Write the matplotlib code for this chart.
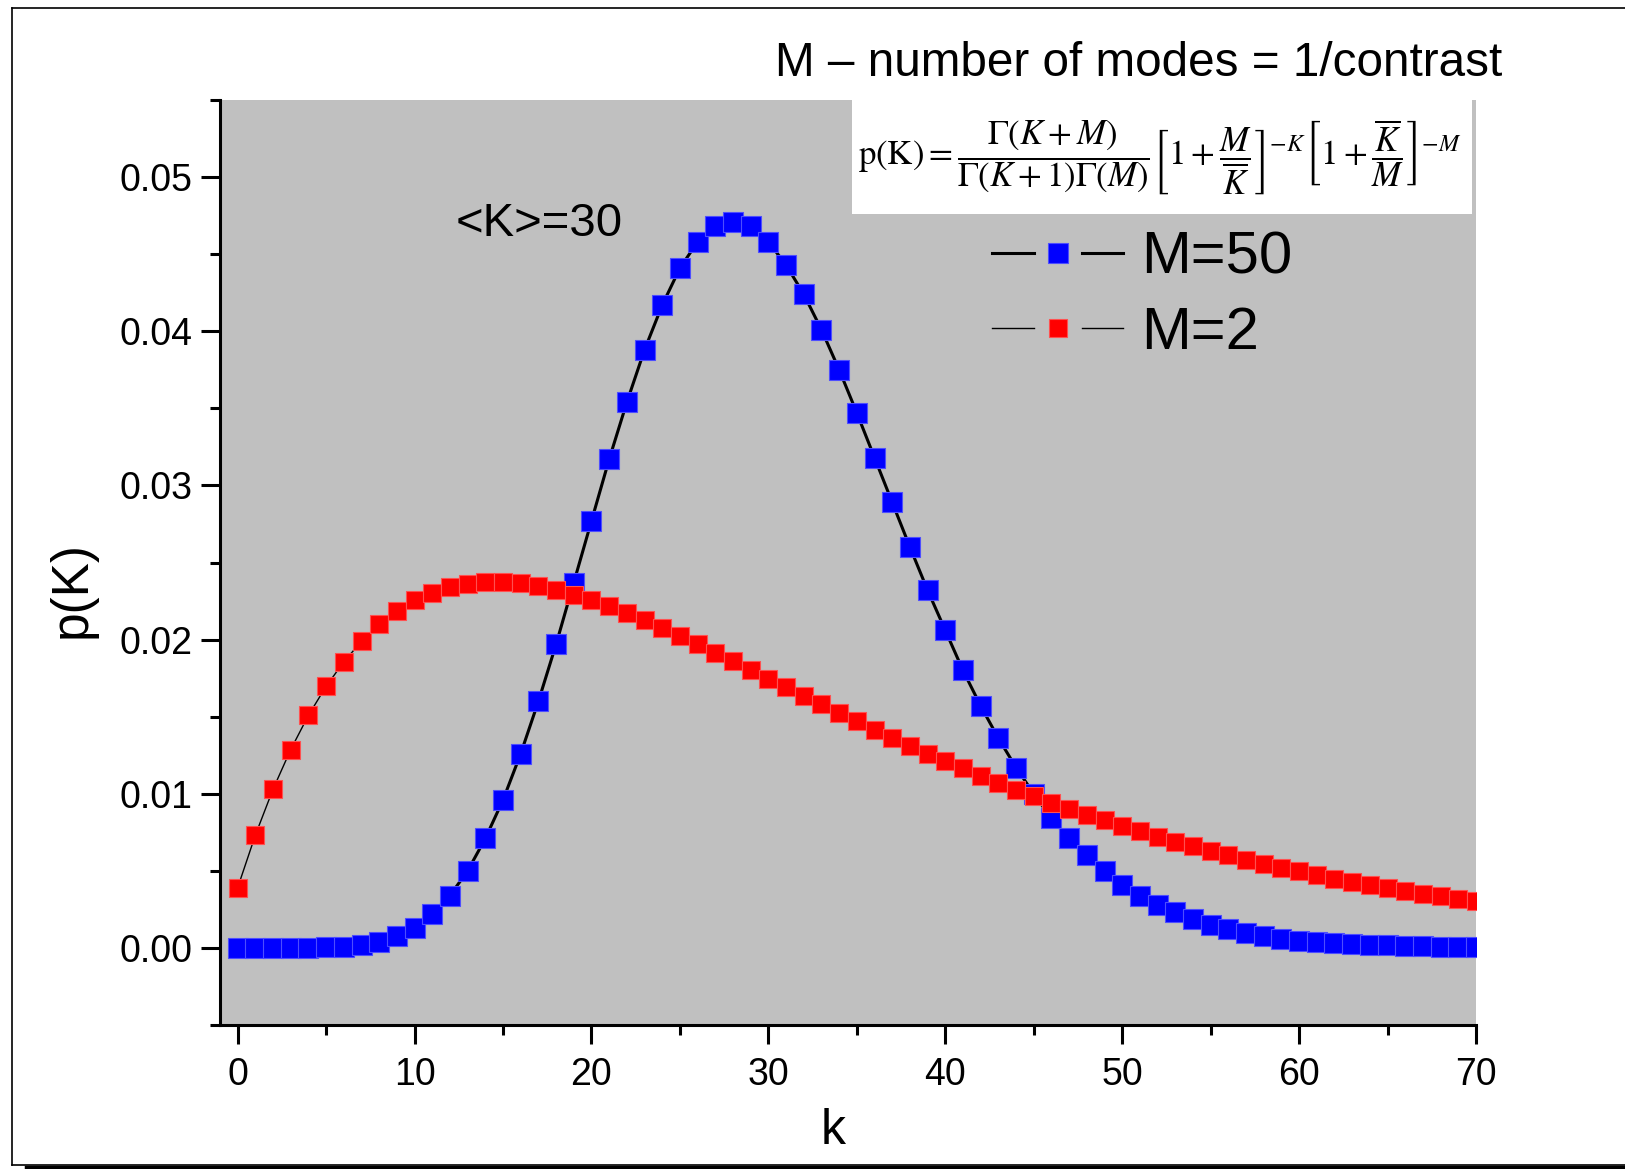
"""Negative binomial photocount distributions for two mode numbers."""

import matplotlib.pyplot as plt
from matplotlib.legend_handler import HandlerTuple
from matplotlib.lines import Line2D
from matplotlib.patches import Rectangle
from matplotlib.ticker import MultipleLocator

plt.rcParams["font.family"] = ["Liberation Sans", "DejaVu Sans"]
plt.rcParams["mathtext.fontset"] = "stix"

k_values = list(range(71))

p_m50 = [
    0.0, 0.0, 0.0, 0.0, 0.00001, 0.00003, 0.00007, 0.0002, 0.0004, 0.00078,
    0.0013, 0.0022, 0.0034, 0.0050, 0.0071, 0.0096, 0.0126, 0.0160, 0.0197, 0.0237,
    0.0277, 0.0317, 0.0354, 0.0388, 0.0417, 0.0441, 0.0458, 0.0468, 0.0471, 0.0468,
    0.0458, 0.0443, 0.0424, 0.0401, 0.0375, 0.0347, 0.0318, 0.0289, 0.0260, 0.0232,
    0.0206, 0.0180, 0.0157, 0.0136, 0.0117, 0.0100, 0.0084, 0.0071, 0.0060, 0.0050,
    0.0041, 0.0034, 0.0028, 0.0023, 0.0019, 0.0015, 0.0012, 0.00097, 0.00078, 0.0006,
    0.00048, 0.00037, 0.0003, 0.00024, 0.0002, 0.00016, 0.00013, 0.0001, 0.00008, 0.00006,
    0.00005,
]

p_m2 = [
    0.00391, 0.00732, 0.01030, 0.01287, 0.01509, 0.01697, 0.01856, 0.01989, 0.02098, 0.02185,
    0.02254, 0.02305, 0.02341, 0.02363, 0.02374, 0.02374, 0.02365, 0.02347, 0.02323, 0.02292,
    0.02256, 0.02216, 0.02172, 0.02125, 0.02075, 0.02023, 0.01970, 0.01915, 0.01859, 0.01803,
    0.01747, 0.01691, 0.01634, 0.01579, 0.01524, 0.01469, 0.01416, 0.01363, 0.01311, 0.01261,
    0.01212, 0.01164, 0.01117, 0.01071, 0.01027, 0.00985, 0.00943, 0.00903, 0.00864, 0.00827,
    0.00790, 0.00756, 0.00722, 0.00690, 0.00659, 0.00629, 0.00600, 0.00572, 0.00546, 0.00520,
    0.00496, 0.00472, 0.00450, 0.00429, 0.00408, 0.00389, 0.00370, 0.00352, 0.00335, 0.00318,
    0.00303,
]

W, H = 1625, 1169
fig = plt.figure(figsize=(W / 100, H / 100), dpi=100)
ax = fig.add_axes([220 / W, 1 - 1025 / H, 1256 / W, 925 / H])
ax.set_facecolor("#c0c0c0")

blue_style = dict(marker="s", markersize=14.5, markerfacecolor="#0000ff",
                  markeredgecolor="#4d4dff", markeredgewidth=0.8)
red_style = dict(marker="s", markersize=13, markerfacecolor="#ff0000",
                 markeredgecolor="#ff5050", markeredgewidth=0.8)

ax.plot(k_values, p_m50, color="black", linewidth=2.2, **blue_style)
ax.plot(k_values, p_m2, color="black", linewidth=1.0, **red_style)

ax.set_xlim(-1, 70)
ax.set_ylim(-0.005, 0.055)
ax.xaxis.set_major_locator(MultipleLocator(10))
ax.xaxis.set_minor_locator(MultipleLocator(5))
ax.yaxis.set_major_locator(MultipleLocator(0.01))
ax.yaxis.set_minor_locator(MultipleLocator(0.005))
ax.yaxis.set_major_formatter(lambda v, pos: f"{v:.2f}")

for side in ("top", "right"):
    ax.spines[side].set_visible(False)
for side in ("left", "bottom"):
    ax.spines[side].set_linewidth(2.2)
ax.tick_params(which="major", direction="out", length=14, width=2.2, labelsize=27)
ax.tick_params(axis="x", which="major", pad=9)
ax.tick_params(axis="y", which="major", pad=6)
ax.tick_params(which="minor", direction="out", length=7, width=2.2)

fig.text(72 / W, 1 - 590 / H, "p(K)", rotation=90, fontsize=37, ha="center", va="center")
fig.text(833 / W, 1 - 1131 / H, "k", fontsize=36, ha="center", va="center")

fig.text(775 / W, 1 - 76 / H, "M \u2013 number of modes = 1/contrast", fontsize=34.3,
         ha="left", va="baseline")
fig.text(456 / W, 1 - 236 / H, "<K>=30", fontsize=34, ha="left", va="baseline")

fig.patches.append(Rectangle((852 / W, 1 - 214 / H), 620 / W, 114 / H,
                             transform=fig.transFigure, facecolor="white",
                             edgecolor="none", zorder=3))
formula = (r"$\mathrm{p(K)}=\dfrac{\Gamma(K+M)}{\Gamma(K+1)\Gamma(M)}"
           r"\left[1+\dfrac{M}{\overline{K}}\right]^{-K}"
           r"\left[1+\dfrac{\overline{K}}{M}\right]^{-M}$")
fig.text(1160 / W, 1 - 157 / H, formula, fontsize=25, ha="center", va="center", zorder=4)

# legend entries drawn as  line - marker - line  with small gaps
handles = []
for width, style in ((2.2, blue_style), (1.0, red_style)):
    seg = Line2D([], [], color="black", linewidth=width)
    mark = Line2D([], [], linestyle="none", **style)
    handles.append((seg, mark, seg))
ax.legend(handles, ["M=50", "M=2"], handler_map={tuple: HandlerTuple(ndivide=None, pad=0.05)},
          loc="upper left", bbox_to_anchor=(992 / W, 1 - 231 / H),
          bbox_transform=fig.transFigure, frameon=False, fontsize=43,
          handlelength=2.2, handletextpad=0.3, labelspacing=0.34, borderpad=0,
          borderaxespad=0)

# outer frame with drop shadow
frame = dict(transform=fig.transFigure, color="black")
fig.lines.append(Line2D([12 / W, 12 / W], [1 - 8 / H, 1 - 1165 / H], linewidth=1.2, **frame))
fig.lines.append(Line2D([12 / W, 1], [1 - 8 / H, 1 - 8 / H], linewidth=1.2, **frame))
fig.lines.append(Line2D([12 / W, 1], [1 - 1165 / H, 1 - 1165 / H], linewidth=1.2, **frame))
fig.lines.append(Line2D([26 / W, 1], [1 - 1167 / H, 1 - 1167 / H], linewidth=2.5, **frame))

fig.savefig("out.png", dpi=100)
